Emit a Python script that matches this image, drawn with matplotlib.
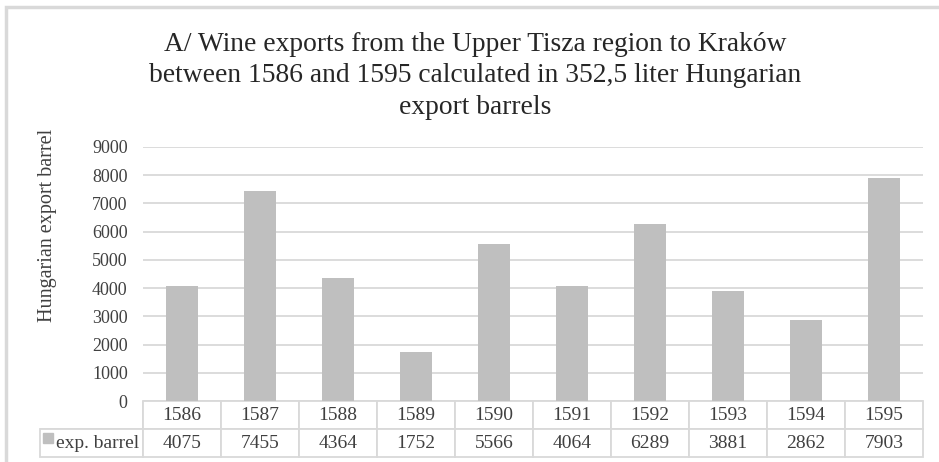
import numpy as np
import matplotlib
matplotlib.use("Agg")
import matplotlib.pyplot as plt
from matplotlib.patches import Rectangle

years = ["1586", "1587", "1588", "1589", "1590", "1591", "1592", "1593", "1594", "1595"]
barrels = [4075, 7455, 4364, 1752, 5566, 4064, 6289, 3881, 2862, 7903]
series_name = "exp. barrel"
title = ("A/ Wine exports from the Upper Tisza region to Kraków\n"
         "between 1586 and 1595 calculated in 352,5 liter Hungarian\n"
         "export barrels")
ylabel = "Hungarian export barrel"

plt.rcParams['font.family'] = ['Liberation Serif', 'DejaVu Serif']
W, H = 939, 462
fig = plt.figure(figsize=(W / 100, H / 100), dpi=100)

# plot area in pixels: x 143..923, y 147..401
L, R, T, B = 143, 923, 147, 401
ax = fig.add_axes([L / W, 1 - B / H, (R - L) / W, (B - T) / H])

grid_c = '#d9d9d9'
bar_c = '#bfbfbf'
txt_c = '#404040'

x = np.arange(len(years))
ax.bar(x, barrels, width=0.4, color=bar_c, zorder=3)
ax.set_xlim(-0.5, len(years) - 0.5)
ax.set_ylim(0, 9000)
ax.set_yticks(range(0, 9001, 1000))
ax.yaxis.grid(True, color=grid_c, linewidth=1.3, zorder=0)
ax.set_xticks([])
for s in ax.spines.values():
    s.set_visible(False)
ax.tick_params(axis='y', length=0, pad=11, labelsize=13, labelcolor=txt_c)

# data table under the plot (first column holds the series label)
lab_w = (L - 40) / (R - L)
row_h = 28 / (B - T)
cells = [[""] + years, [series_name] + [str(v) for v in barrels]]
tab = ax.table(cellText=cells,
               colWidths=[lab_w] + [0.1] * len(years),
               cellLoc='center',
               bbox=[-lab_w, -2 * row_h, 1 + lab_w, 2 * row_h])
tab.auto_set_font_size(False)
for (r, c), cell in tab.get_celld().items():
    cell.set_edgecolor(grid_c)
    cell.set_linewidth(1.3)
    cell.get_text().set_fontsize(14)
    cell.get_text().set_color(txt_c)
    if c == 0:
        cell.PAD = 0.04
        cell.get_text().set_horizontalalignment('right')
        cell._loc = 'right'
        if r == 0:
            cell.visible_edges = 'BR'

# legend key in the table
ax.add_patch(Rectangle(((43 - L) / (R - L), -(443 - B) / (B - T)),
                       10 / (R - L), 10 / (B - T),
                       transform=ax.transAxes, color=bar_c, clip_on=False))

fig.text(48 / W, 1 - 225 / H, ylabel, rotation=90, ha='center', va='center',
         fontsize=14.5, color=txt_c)
fig.text(475 / W, 1 - 76 / H, title, ha='center', va='center',
         fontsize=19.8, color='#262626', linespacing=1.32)

# outer chart border
fig.add_artist(Rectangle((6 / W, -0.1), 1.0, 1 - 7 / H + 0.1,
                         transform=fig.transFigure, fill=False,
                         edgecolor=grid_c, linewidth=2.5))

fig.savefig("out.png", dpi=100)
